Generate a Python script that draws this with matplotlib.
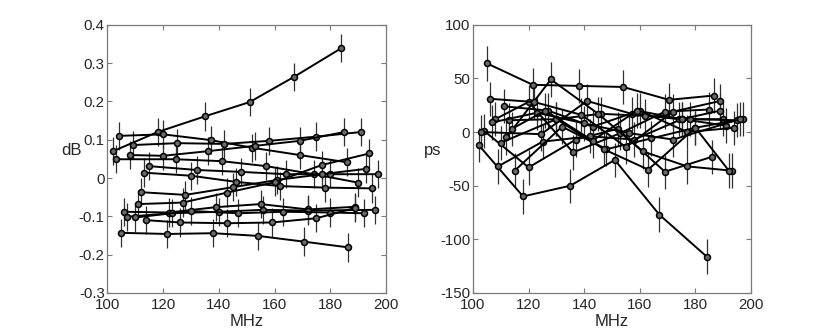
import numpy as np
import matplotlib
matplotlib.use("Agg")
import matplotlib.pyplot as plt

plt.rcParams["font.family"] = ["Liberation Sans", "DejaVu Sans"]

# ── Data: frequency points (MHz) per sweep, shared by both panels ─────────────
freqs = [
    [102, 118, 135, 151, 167, 184],
    [104, 120, 137, 152, 169, 186],
    [109, 125, 142, 158, 175, 191],
    [108, 120, 136, 153, 169, 185],
    [103, 124.5, 141, 157, 174, 190],
    [115, 132, 148, 164, 180, 197],
    [113, 130, 146, 162, 178, 195],
    [112, 128, 145, 161, 177, 193],
    [111, 127, 143, 160, 177, 194],
    [106, 122, 139, 155, 172, 189],
    [107, 123, 140, 156, 172, 196],
    [110, 130, 147, 163, 180, 192],
    [114, 126, 143, 159, 175, 189],
    [105, 121.5, 138, 154, 170.5, 186.5],
]

# amplitude (dB)
amp_db = [
    [0.070, 0.120, 0.161, 0.198, 0.264, 0.339],
    [0.110, 0.114, 0.099, 0.079, 0.060, 0.041],
    [0.086, 0.091, 0.089, 0.097, 0.108, 0.120],
    [0.060, 0.058, 0.070, 0.084, 0.097, 0.120],
    [0.049, 0.049, 0.044, 0.031, 0.010, -0.012],
    [0.031, 0.021, 0.016, 0.010, 0.010, 0.010],
    [0.014, 0.006, -0.010, -0.021, -0.025, -0.027],
    [-0.037, -0.044, -0.024, -0.005, 0.010, 0.024],
    [-0.068, -0.064, -0.038, -0.011, 0.034, 0.064],
    [-0.088, -0.090, -0.076, -0.068, -0.082, -0.075],
    [-0.101, -0.092, -0.088, -0.083, -0.085, -0.083],
    [-0.103, -0.086, -0.092, -0.088, -0.090, -0.092],
    [-0.110, -0.116, -0.118, -0.116, -0.105, -0.078],
    [-0.143, -0.146, -0.144, -0.151, -0.166, -0.181],
]
amp_err = 0.037

# delay (ps)
delay_ps = [
    [-12, -60, -50, -26, -77, -116],
    [1, -33, -7, 3, -37, -23],
    [-32, -9, -4, -7, 12, 6],
    [12, 28, -19, -1, 19, 21],
    [0, -2, 29, 17, 12, 12],
    [-36, 5, -16, -6, 4, 12],
    [11, 12, 17, 15, 12, 11],
    [-5, 49, 17, -18, -32, -36],
    [24, 20, 5, 20, 0, 4],
    [31, 28, 16, -14, 19, 29],
    [9, 18, 8, -1, -7, 12],
    [-10, 12, -16, -35, 4, -36],
    [3, 20, -8, 20, 12, 20],
    [64, 44, 43, 42, 30, 34],
]
delay_err = 16

SPINE = "#7a7a7a"
TEXT = "#262626"


def draw_panel(ax, ys, err, ylim, yticks, yticklabels, ylabel, ylab_x):
    for f, y in zip(freqs, ys):
        ax.errorbar(f, y, yerr=err, fmt="none", ecolor="#303030",
                    elinewidth=0.9, capsize=0, zorder=2)
        ax.plot(f, y, "-o", color="black", linewidth=1.4, markersize=4.3,
                markerfacecolor="#6a6a6a", markeredgecolor="black",
                markeredgewidth=1.1, zorder=3)
    ax.set_xlim(100, 200)
    ax.set_ylim(*ylim)
    ax.set_xticks([100, 120, 140, 160, 180, 200])
    ax.set_yticks(yticks)
    ax.set_yticklabels(yticklabels)
    ax.tick_params(direction="in", length=3.5, width=0.8, color=SPINE,
                   top=True, right=True, labelsize=10.8, labelcolor=TEXT, pad=2)
    ax.tick_params(axis="x", pad=3.5)
    for s in ax.spines.values():
        s.set_color(SPINE)
        s.set_linewidth(0.9)
    ax.set_xlabel("MHz", fontsize=12, color=TEXT)
    ax.xaxis.set_label_coords(0.5, -0.106)
    ax.xaxis.label.set_va("center")
    ax.set_ylabel(ylabel, fontsize=12, color=TEXT, rotation=0,
                  ha="center", va="center")
    ax.yaxis.set_label_coords(ylab_x, 0.53)


fig = plt.figure(figsize=(8.3, 3.32), dpi=100)
ax1 = fig.add_axes([0.1295, 0.1175, 0.3355, 0.808])
ax2 = fig.add_axes([0.5699, 0.1175, 0.335, 0.808])

draw_panel(ax1, amp_db, amp_err, (-0.3, 0.4),
           [-0.3, -0.2, -0.1, 0, 0.1, 0.2, 0.3, 0.4],
           ["-0.3", "-0.2", "-0.1", "0", "0.1", "0.2", "0.3", "0.4"],
           "dB", -0.129)
draw_panel(ax2, delay_ps, delay_err, (-150, 100),
           [-150, -100, -50, 0, 50, 100],
           ["-150", "-100", "-50", "0", "50", "100"],
           "ps", -0.144)

fig.savefig("out.png", dpi=100)
